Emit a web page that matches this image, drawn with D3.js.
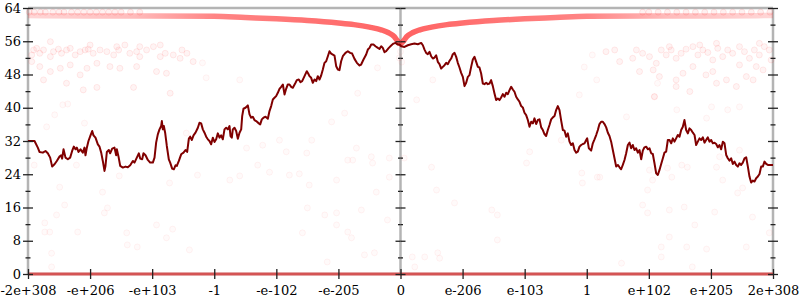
<!DOCTYPE html>
<html>
<head>
<meta charset="utf-8">
<script src="https://cdn.jsdelivr.net/npm/d3@7"></script>
<style>
    body { margin: 0; background: #fff; }
    text { font-family: "DejaVu Serif", serif; font-size: 13px; }
</style>
</head>
<body>
<div id="chart"></div>
<script>
// x positions are in tick steps along the float ordering (0 = zero, +-6 = +-max double)
const xTicks = [-6, -5, -4, -3, -2, -1, 0, 1, 2, 3, 4, 5, 6];
const xTickLabels = ['-2e+308', '-e+206', '-e+103', '-1', '-e-102', '-e-205', '0',
    'e-206', 'e-103', '1', 'e+102', 'e+205', '2e+308'];
const yMajor = [0, 8, 16, 24, 32, 40, 48, 56, 64];
const yMinor = [4, 12, 20, 28, 36, 44, 52, 60];

// dark red walk
const lineX = [
    -6.00, -5.895, -5.842, -5.815, -5.761, -5.718, -5.681, -5.643, -5.611, -5.573, -5.536, -5.493, -5.466, -5.450, -5.428, -5.396, -5.358, -5.321, -5.289, -5.262,
    -5.235, -5.213, -5.187, -5.154, -5.117, -5.090, -5.074, -5.052, -5.026, -4.993, -4.966, -4.945, -4.913, -4.875, -4.848, -4.821, -4.795, -4.768, -4.752, -4.730,
    -4.698, -4.677, -4.644, -4.607, -4.580, -4.569, -4.542, -4.515, -4.472, -4.430, -4.392, -4.354, -4.311, -4.285, -4.247, -4.215, -4.193, -4.161, -4.140, -4.107,
    -4.070, -4.032, -3.989, -3.962, -3.936, -3.909, -3.882, -3.855, -3.844, -3.828, -3.812, -3.791, -3.764, -3.732, -3.710, -3.678, -3.651, -3.624, -3.603, -3.570,
    -3.533, -3.495, -3.463, -3.436, -3.409, -3.388, -3.361, -3.334, -3.302, -3.264, -3.238, -3.211, -3.184, -3.157, -3.130, -3.103, -3.077, -3.050, -3.023, -2.996,
    -2.969, -2.942, -2.915, -2.889, -2.862, -2.835, -2.808, -2.781, -2.754, -2.738, -2.717, -2.701, -2.674, -2.647, -2.620, -2.593, -2.566, -2.550, -2.529, -2.497,
    -2.459, -2.432, -2.405, -2.379, -2.352, -2.325, -2.282, -2.260, -2.234, -2.207, -2.174, -2.137, -2.110, -2.083, -2.056, -2.030, -2.003, -1.976, -1.949, -1.922,
    -1.895, -1.868, -1.842, -1.815, -1.788, -1.761, -1.734, -1.691, -1.670, -1.638, -1.611, -1.584, -1.546, -1.509, -1.487, -1.466, -1.439, -1.412, -1.385, -1.358,
    -1.332, -1.305, -1.278, -1.251, -1.224, -1.197, -1.170, -1.144, -1.117, -1.090, -1.063, -1.036, -1.009, -0.983, -0.956, -0.929, -0.886, -0.848, -0.811, -0.779,
    -0.741, -0.703, -0.660, -0.634, -0.596, -0.553, -0.526, -0.499, -0.472, -0.435, -0.403, -0.365, -0.338, -0.311, -0.285, -0.258, -0.231, -0.188, -0.150, -0.113,
    -0.081, -0.043, -0.016,
    0.011, 0.064, 0.118, 0.172, 0.226, 0.279, 0.333, 0.360, 0.387, 0.413, 0.440, 0.467, 0.494, 0.521, 0.548, 0.574, 0.601, 0.628, 0.655, 0.682,
    0.709, 0.736, 0.762, 0.789, 0.816, 0.843, 0.870, 0.897, 0.923, 0.950, 0.977, 1.004, 1.031, 1.058, 1.085, 1.111, 1.138, 1.165, 1.192, 1.219,
    1.246, 1.272, 1.299, 1.326, 1.353, 1.380, 1.407, 1.434, 1.460, 1.487, 1.514, 1.541, 1.568, 1.595, 1.621, 1.648, 1.675, 1.702, 1.729, 1.756,
    1.783, 1.809, 1.836, 1.863, 1.890, 1.917, 1.944, 1.970, 1.997, 2.024, 2.051, 2.078, 2.105, 2.132, 2.158, 2.185, 2.212, 2.239, 2.266, 2.293,
    2.319, 2.346, 2.373, 2.400, 2.427, 2.454, 2.481, 2.507, 2.534, 2.561, 2.588, 2.615, 2.642, 2.668, 2.695, 2.722, 2.749, 2.776, 2.803, 2.830,
    2.856, 2.883, 2.910, 2.937, 2.964, 2.991, 3.007, 3.034, 3.071, 3.098, 3.125, 3.152, 3.179, 3.205, 3.232, 3.259, 3.286, 3.313, 3.340, 3.366,
    3.393, 3.420, 3.447, 3.474, 3.501, 3.528, 3.554, 3.581, 3.608, 3.635, 3.662, 3.689, 3.715, 3.742, 3.769, 3.796, 3.823, 3.850, 3.877, 3.903,
    3.930, 3.957, 3.984, 4.011, 4.038, 4.064, 4.091, 4.118, 4.145, 4.172, 4.199, 4.226, 4.252, 4.279, 4.306, 4.333, 4.360, 4.387, 4.413, 4.440,
    4.467, 4.494, 4.521, 4.548, 4.574, 4.601, 4.628, 4.655, 4.682, 4.709, 4.736, 4.762, 4.789, 4.816, 4.843, 4.870, 4.897, 4.923, 4.950, 4.977,
    5.004, 5.031, 5.058, 5.085, 5.111, 5.138, 5.165, 5.192, 5.219, 5.246, 5.272, 5.299, 5.326, 5.353, 5.380, 5.407, 5.434, 5.460, 5.487, 5.514,
    5.541, 5.568, 5.595, 5.621, 5.648, 5.675, 5.702, 5.729, 5.756, 5.783, 5.809, 5.836, 5.863, 5.890, 5.917, 6.00
];
const lineY = [
    32.0, 32.0, 30.4, 29.36, 29.2, 29.6, 29.04, 28.0, 25.84, 26.4, 27.2, 28.24, 28.56, 27.76, 30.0, 28.0, 27.6, 28.0, 29.6, 30.64,
    30.0, 30.4, 29.36, 30.0, 29.2, 30.4, 28.56, 30.4, 32.0, 33.36, 34.4, 33.36, 32.8, 31.2, 30.64, 29.2, 27.2, 24.8, 26.0, 29.36,
    29.84, 29.04, 30.16, 30.4, 28.56, 30.0, 28.24, 26.0, 25.6, 25.84, 25.68, 26.16, 27.2, 26.8, 28.0, 29.04, 27.76, 27.6, 29.04, 28.56,
    27.44, 26.8, 26.8, 28.0, 31.6, 33.6, 34.8, 35.6, 36.8, 34.8, 35.6, 34.0, 30.8, 27.6, 26.8, 25.36, 25.2, 26.16, 26.0, 27.2,
    28.8, 29.2, 29.84, 29.36, 32.56, 33.04, 32.24, 33.36, 34.0, 35.2, 36.4, 36.24, 34.8, 34.0, 33.04, 32.4, 32.0, 31.2, 32.8, 31.76,
    32.4, 33.84, 32.8, 33.36, 32.4, 34.8, 35.2, 34.8, 35.6, 33.2, 32.8, 34.8, 35.2, 34.4, 32.56, 34.0, 34.8, 38.0, 39.76, 40.0,
    40.56, 38.4, 37.6, 37.84, 37.04, 36.8, 36.24, 36.0, 37.2, 37.6, 37.84, 37.36, 39.2, 40.4, 42.0, 42.4, 42.8, 43.6, 44.56, 45.04,
    45.6, 43.2, 44.56, 45.6, 45.6, 45.04, 44.8, 46.0, 46.64, 46.8, 46.16, 46.4, 47.6, 48.8, 48.24, 47.6, 47.2, 46.0, 46.8, 46.4,
    47.6, 46.8, 47.76, 49.2, 50.8, 51.2, 52.4, 53.6, 53.04, 52.8, 52.56, 50.0, 49.2, 49.04, 51.2, 52.4, 53.2, 53.6, 53.2, 53.04,
    51.76, 50.8, 50.16, 50.4, 51.6, 52.8, 54.0, 54.4, 55.2, 55.2, 54.8, 54.4, 54.16, 54.8, 54.4, 53.36, 53.6, 54.4, 54.96, 55.44,
    55.6, 55.2, 55.2,
    54.8, 54.64, 55.04, 55.28, 55.44, 55.28, 55.6, 55.04, 54.0, 53.2, 52.88, 53.44, 52.4, 51.84, 52.08, 52.64, 51.04, 50.48, 49.44, 49.84,
    50.24, 50.8, 50.48, 51.28, 51.84, 52.88, 53.2, 52.24, 50.8, 49.68, 48.4, 47.44, 45.2, 46.0, 47.44, 47.84, 49.84, 51.6, 52.24, 51.04,
    49.84, 49.68, 48.24, 45.84, 45.68, 46.0, 45.68, 45.84, 46.64, 45.2, 43.44, 41.84, 42.24, 41.84, 42.48, 43.28, 42.64, 43.6, 43.28, 44.24,
    45.04, 44.4, 43.84, 42.64, 42.0, 41.44, 40.4, 40.08, 38.8, 38.24, 37.04, 35.44, 36.64, 36.24, 37.44, 36.08, 37.04, 37.2, 35.28, 34.64,
    33.68, 33.2, 34.64, 35.84, 37.2, 37.68, 38.0, 39.44, 40.4, 39.44, 36.88, 34.64, 34.48, 33.04, 33.84, 31.84, 31.04, 31.44, 29.84, 29.2,
    29.44, 30.64, 31.04, 31.28, 31.44, 32.24, 32.64, 30.24, 29.68, 31.44, 32.4, 33.44, 34.64, 36.08, 36.64, 36.64, 36.08, 35.28, 34.0, 33.2,
    31.84, 29.84, 27.84, 25.84, 26.24, 25.68, 25.2, 26.24, 27.44, 29.04, 31.04, 31.6, 30.24, 31.04, 29.84, 30.24, 29.2, 29.84, 27.6, 29.68,
    30.48, 30.64, 30.0, 30.24, 29.04, 28.88, 26.64, 24.24, 23.84, 25.04, 26.48, 27.84, 29.2, 29.44, 32.24, 32.24, 31.44, 32.64, 31.84, 32.64,
    33.44, 33.04, 34.64, 35.44, 37.04, 34.64, 33.84, 35.04, 34.64, 34.0, 33.44, 31.04, 31.84, 32.64, 32.24, 32.88, 31.6, 32.24, 32.88, 31.84,
    32.24, 31.44, 31.6, 31.28, 30.48, 31.04, 30.0, 31.84, 31.44, 28.64, 27.84, 27.28, 27.84, 26.48, 27.04, 26.24, 25.84, 26.64, 26.24, 26.8,
    27.84, 28.08, 25.84, 23.44, 22.0, 22.48, 22.24, 23.04, 23.44, 24.08, 25.84, 25.84, 27.04, 26.48, 26.24, 26.24
];

// red curve of sample points (thick, translucent)
const curveX = [-6, -5, -4, -3, -2.5, -2, -1.5, -1, -0.75, -0.5, -0.3, -0.2, -0.1, -0.05, 0,
    0.05, 0.1, 0.2, 0.3, 0.5, 0.75, 1, 1.5, 2, 2.5, 3, 4, 5, 6];
const curveY = [62.2, 62.1, 62.1, 62.0, 61.7, 61.4, 61.0, 60.4, 60.0, 59.4, 58.7, 58.1, 57.1, 56.1, 55.4,
    56.1, 57.1, 58.1, 58.7, 59.4, 60.0, 60.4, 61.0, 61.4, 61.7, 62.0, 62.1, 62.1, 62.2];

// faint row of points just under the top
const topRowX = [-5.98, -5.9, -5.8, -5.72, -5.6, -5.5, -5.42, -5.3, -5.2, -5.1, -5.0, -4.9, -4.8, -4.7, -4.6, -4.5, -4.35, -4.2,
    3.9, 4.0, 4.15, 4.3, 4.45, 4.6, 4.75, 4.9, 5.05, 5.2, 5.35, 5.5, 5.65, 5.8, 5.95];
const topRowY = [63, 63, 63, 63, 63, 63, 63, 63, 63, 63, 63, 63, 63, 63, 63, 63, 63, 63,
    63, 63, 63, 63, 63, 63, 63, 63, 63, 63, 63, 63, 63, 63, 63];

// points sitting on zero
const zeroX = [-6, 6];
const zeroY = [0, 0];

// cloud of points in the 44..56 band near both ends
const bandX = [
    -5.94, -5.91, -5.86, -5.81, -5.75, -5.64, -5.59, -5.51, -5.46, -5.38, -5.32, -5.24, -5.16, -5.08, -5.03, -4.95, -4.84, -4.73, -4.62, -4.54,
    -4.44, -4.36, -4.25, -4.20, -4.09, -3.98, -3.87, -3.79, -3.66, -3.55, -3.44, -3.34, -5.81, -5.64, -5.48, -5.32, -5.16, -5.05, -4.89, -4.68,
    -4.52, -4.25, -3.93, -3.77, -5.94, -5.75, -5.38, -5.11, -4.89, -4.30, -3.71, -5.64, -5.00, -4.57, -4.20, -3.87, -3.52,
    3.31, 3.45, 3.53, 3.74, 3.80, 3.90, 4.01, 4.12, 4.20, 4.28, 4.36, 4.44, 4.52, 4.60, 4.71, 4.79, 4.87, 4.95, 5.03, 5.11,
    5.19, 5.27, 5.35, 5.46, 5.54, 5.62, 5.70, 5.78, 5.86, 5.94, 5.97, 3.85, 4.07, 4.17, 4.44, 4.55, 4.71, 4.92, 5.03, 5.25,
    5.46, 5.57, 5.73, 5.84, 4.09, 4.44, 4.66, 5.09, 5.41, 5.68, 4.82, 5.09, 4.33, 5.78
];
const bandY = [
    52.7, 53.9, 54.3, 53.1, 53.9, 52.3, 53.5, 54.1, 53.1, 53.9, 54.3, 52.7, 53.5, 53.9, 54.1, 53.1, 53.9, 53.5, 52.7, 53.9,
    55.1, 53.1, 53.5, 52.3, 53.9, 54.7, 52.3, 53.1, 52.7, 51.9, 53.1, 51.1, 49.9, 48.7, 49.5, 50.3, 47.9, 49.5, 50.7, 49.9,
    49.5, 49.9, 48.7, 48.3, 51.1, 46.7, 45.9, 44.3, 44.9, 44.9, 43.5, 55.9, 55.1, 54.7, 54.7, 55.1, 53.9,
    53.5, 53.9, 51.1, 51.9, 53.9, 53.1, 52.3, 50.7, 53.9, 52.7, 53.9, 51.9, 53.1, 54.1, 54.7, 52.7, 53.9, 53.3, 51.5, 54.3,
    52.3, 53.9, 53.1, 54.7, 53.5, 51.9, 53.9, 52.7, 54.7, 53.9, 51.5, 48.7, 49.1, 47.5, 46.7, 48.3, 49.9, 47.9, 48.7, 46.7,
    50.3, 47.5, 49.9, 49.1, 42.7, 45.1, 43.9, 45.9, 45.1, 46.7, 55.1, 55.5, 54.7, 55.5
];

// sparse, very faint points over the whole plot
const sparseX = [
    -5.41, -5.73, -5.65, -5.73, -5.54, -5.62, -5.62, -5.20, -4.77, -4.72, -4.41, -4.40, -4.24, -3.93, -3.77, -3.67, -3.40,
    -5.44, -5.36, -5.57, -5.70, -5.09, -5.90, -5.22, -5.49, -4.80, -4.53, -3.45, -3.27, -3.72,
    -2.59, -3.19, -3.13, -1.95, -1.43, -2.22, -1.84, -1.51, -0.69, -0.90, -1.11, -0.71, -0.47, -0.85, -0.77, -0.45, -0.18, -0.18,
    -2.59, -2.75, -1.79, -1.63, -2.30, -2.11, -1.03, -1.47, -0.39, -0.37, -2.48,
    0.26, 0.52, 0.50, 0.58, 0.06, 2.08, 2.03, 2.88, 2.59, 2.92, 2.93, 3.17, 2.96, 3.09, 3.16,
    4.14, 4.09, 3.64, 4.45, 4.93, 5.01, 5.27, 5.46, 4.01, 4.30, 4.53, 4.62, 5.09, 5.14, 5.46, 4.37, 4.06, 3.98, 5.19, 5.51, 5.43, 3.21,
    -1.50, -1.22, -1.03, -0.63, -1.03, -1.58, -0.85, -0.79, -0.58, -0.42, -0.21, -1.18, 0.19, 0.39, 0.60, 0.63, 0.23, 0.87, 1.47, 1.56, 1.56,
    3.90, 3.98, 4.33, 4.57, 5.06, 5.67, 4.74, 4.33, 4.20, 4.61, 4.93, 5.57, 5.94, 4.20, 3.56, 4.70,
    0.0, -0.02, 0.02
];
const sparseY = [
    16.6, 12.3, 10.1, 10.1, 14.2, 5.0, 1.7, 10.1, 14.7, 15.9, 9.9, 7.0, 6.5, 11.8, 8.7, 10.8, 5.8,
    40.7, 40.9, 38.3, 35.4, 36.3, 26.2, 26.2, 20.9, 19.7, 23.6, 33.9, 23.8, 21.9,
    46.7, 50.8, 47.2, 32.2, 32.2, 31.0, 29.4, 29.1, 43.5, 38.7, 36.6, 30.3, 28.2, 27.4, 27.4, 26.7, 27.9, 23.3,
    23.6, 22.6, 23.8, 24.1, 26.2, 24.5, 22.6, 21.4, 19.7, 49.6, 30.3,
    41.9, 46.7, 25.7, 20.2, 27.9, 29.4, 26.7, 43.1, 32.2, 24.3, 21.9, 23.3, 49.8, 52.7, 46.7,
    45.9, 42.6, 37.8, 39.5, 37.5, 40.2, 39.5, 40.2, 25.0, 25.5, 26.2, 25.7, 25.7, 28.2, 29.8, 23.3, 22.6, 20.2, 22.6, 20.7, 19.5, 23.3,
    15.9, 14.2, 14.7, 15.4, 11.8, 9.9, 10.1, 8.7, 4.6, 5.1, 13.0, 2.9, 4.1, 4.1, 5.1, 3.8, 1.7, 17.1, 15.4, 14.2, 8.2,
    16.6, 14.7, 15.4, 16.1, 14.9, 13.7, 11.8, 8.9, 6.5, 6.5, 6.0, 6.5, 9.9, 4.1, 2.6, 1.7,
    53.5, 52.0, 51.0
];

const margin = { top: 8, right: 27, bottom: 26, left: 28 };
const width = 800 - margin.left - margin.right;
const height = 300 - margin.top - margin.bottom;

const root = d3.select('#chart')
    .append('svg')
    .attr('width', width + margin.left + margin.right)
    .attr('height', height + margin.top + margin.bottom);

const svg = root.append('g')
    .attr('transform', `translate(${margin.left},${margin.top})`);

const x = d3.scaleLinear().domain([-6, 6]).range([0, width]);
const y = d3.scaleLinear().domain([0, 64]).range([height, 0]);

// Grey frame: top, bottom and the three vertical axes
const frame = svg.append('g').attr('stroke', '#b4b4b4').attr('stroke-width', 2.5);
[64, 0].forEach(v => {
    frame.append('line')
        .attr('x1', x(-6)).attr('x2', x(6))
        .attr('y1', y(v)).attr('y2', y(v));
});
[-6, 0, 6].forEach(v => {
    frame.append('line')
        .attr('x1', x(v)).attr('x2', x(v))
        .attr('y1', y(0)).attr('y2', y(64));
});

const drawDots = (xs, ys, fill, stroke) => {
    svg.append('g')
        .selectAll('circle')
        .data(d3.zip(xs, ys))
        .join('circle')
        .attr('cx', d => x(d[0]))
        .attr('cy', d => y(d[1]))
        .attr('r', 3)
        .attr('fill', fill)
        .attr('stroke', stroke);
};

drawDots(sparseX, sparseY, 'rgba(255,40,40,0.025)', 'rgba(255,40,40,0.05)');
drawDots(bandX, bandY, 'rgba(255,40,40,0.05)', 'rgba(255,40,40,0.09)');
drawDots(topRowX, topRowY, 'rgba(255,40,40,0.07)', 'rgba(255,40,40,0.1)');

const line = d3.line()
    .x(d => x(d[0]))
    .y(d => y(d[1]));

// Points on zero
svg.append('path')
    .datum(d3.zip(zeroX, zeroY))
    .attr('d', line)
    .attr('fill', 'none')
    .attr('stroke', '#dc3c3c')
    .attr('stroke-opacity', 0.8)
    .attr('stroke-width', 3);

// Red curve: fades toward both ends where the points thin out
const grad = root.append('defs').append('linearGradient')
    .attr('id', 'curveFade')
    .attr('gradientUnits', 'userSpaceOnUse')
    .attr('x1', x(-6)).attr('x2', x(6))
    .attr('y1', 0).attr('y2', 0);
[[-6, 0.18], [-4.3, 0.3], [-3, 0.55], [0, 0.7], [3, 0.55], [4.3, 0.3], [6, 0.18]].forEach(([v, o]) => {
    grad.append('stop')
        .attr('offset', (x(v) - x(-6)) / width)
        .attr('stop-color', '#ff2020')
        .attr('stop-opacity', o);
});

svg.append('path')
    .datum(d3.zip(curveX, curveY))
    .attr('d', d3.line().x(d => x(d[0])).y(d => y(d[1])).curve(d3.curveMonotoneX))
    .attr('fill', 'none')
    .attr('stroke', 'url(#curveFade)')
    .attr('stroke-width', 5.5);

// Dark red walk
svg.append('path')
    .datum(d3.zip(lineX, lineY))
    .attr('d', line)
    .attr('fill', 'none')
    .attr('stroke', '#800000')
    .attr('stroke-width', 2)
    .attr('stroke-linejoin', 'round');

// Tick marks on each vertical axis, labels only on the left one
[-6, 0, 6].forEach(pos => {
    const g = svg.append('g').attr('transform', `translate(${x(pos)},0)`).attr('color', '#000');
    g.append('g')
        .call(d3.axisLeft(y).tickValues(yMajor).tickSize(5).tickPadding(2)
            .tickFormat(pos === -6 ? d3.format('d') : ''));
    g.append('g')
        .call(d3.axisRight(y).tickValues(yMajor).tickSize(5).tickFormat(''));
    g.append('g')
        .call(d3.axisLeft(y).tickValues(yMinor).tickSize(2.5).tickFormat(''));
    g.append('g')
        .call(d3.axisRight(y).tickValues(yMinor).tickSize(2.5).tickFormat(''));
    g.selectAll('.domain').remove();
    g.selectAll('line').attr('stroke', '#222').attr('stroke-width', 1.3);
});

// X ticks
const xg = svg.append('g').attr('transform', `translate(0,${height})`).attr('color', '#000');
xg.append('g')
    .call(d3.axisBottom(x).tickValues(xTicks).tickSize(5).tickPadding(7)
        .tickFormat((d, i) => xTickLabels[i]));
xg.append('g')
    .call(d3.axisTop(x).tickValues(xTicks).tickSize(5).tickFormat(''));
xg.selectAll('.domain').remove();
xg.selectAll('line').attr('stroke', '#222').attr('stroke-width', 1.3);

svg.selectAll('.tick text')
    .style('font-family', '"DejaVu Serif", serif')
    .style('font-size', '13px');
</script>
</body>
</html>
